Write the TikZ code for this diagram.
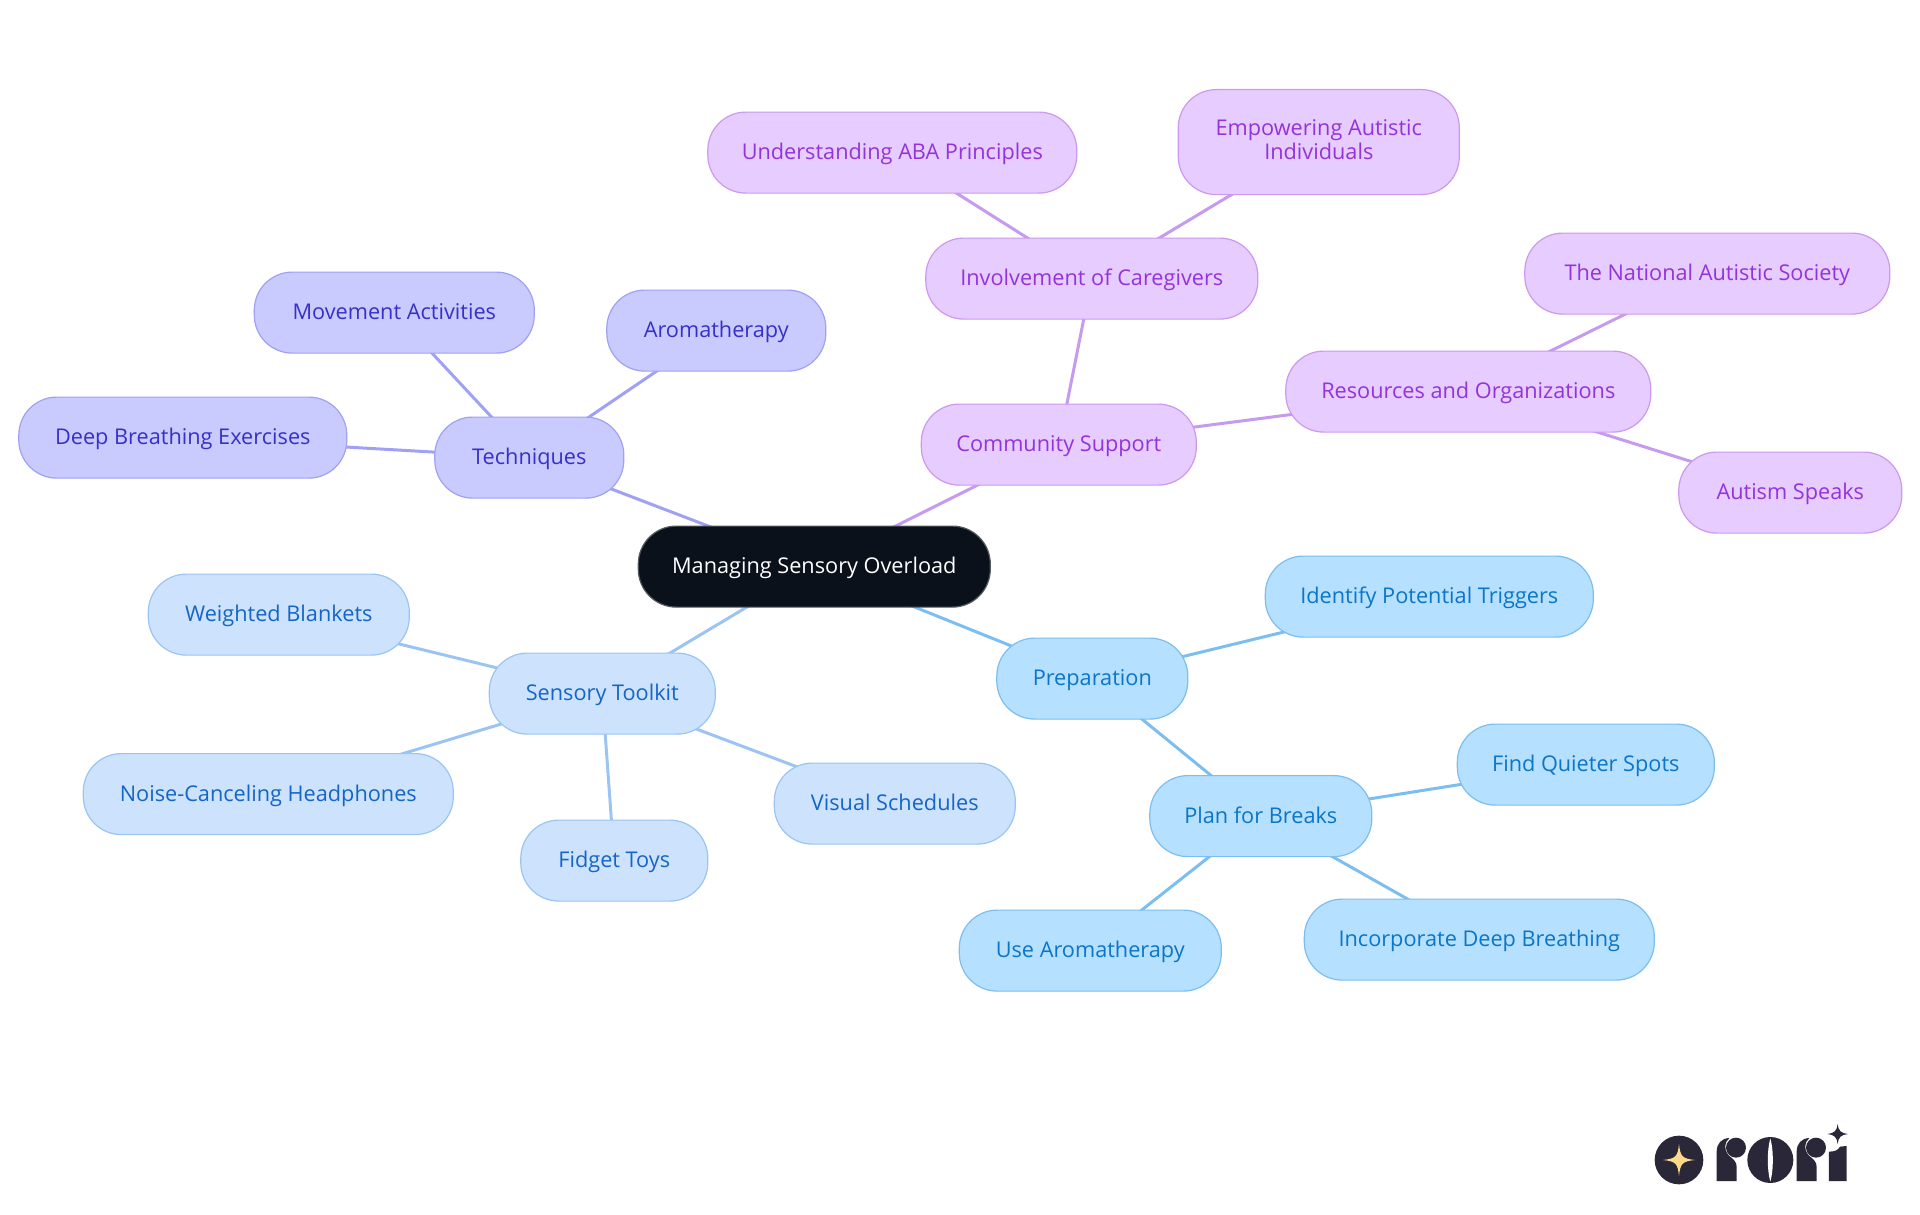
\documentclass[tikz,border=0pt]{standalone}
\usepackage{fontspec}
\setmainfont{Open Sans}
\usetikzlibrary{backgrounds}
\definecolor{rootfill}{HTML}{0B111A}
\definecolor{techfill}{HTML}{C9CBFF}\definecolor{techline}{HTML}{A0A0F5}\definecolor{techtext}{HTML}{3730C8}
\definecolor{commfill}{HTML}{E7CCFF}\definecolor{commline}{HTML}{CC99EE}\definecolor{commtext}{HTML}{9333DC}
\definecolor{toolfill}{HTML}{CCE2FD}\definecolor{toolline}{HTML}{9CC4F2}\definecolor{tooltext}{HTML}{1565C8}
\definecolor{prepfill}{HTML}{B5E0FF}\definecolor{prepline}{HTML}{7CBEF0}\definecolor{preptext}{HTML}{0B75C9}
\definecolor{logodark}{HTML}{2A2838}\definecolor{logostar}{HTML}{FFD98A}
\tikzset{
  pill/.style={rounded corners=38pt,inner sep=0pt,minimum height=81pt,line width=1.2pt,align=center,
    text height=19pt,text depth=5pt,
    font=\fontsize{21.7}{24}\selectfont},
  rootpill/.style={pill,fill=rootfill,draw=rootfill!70!white,text=white},
  techpill/.style={pill,fill=techfill,draw=techline,text=techtext},
  commpill/.style={pill,fill=commfill,draw=commline,text=commtext},
  toolpill/.style={pill,fill=toolfill,draw=toolline,text=tooltext},
  preppill/.style={pill,fill=prepfill,draw=prepline,text=preptext},
  techedge/.style={draw=techline,line width=3pt},
  commedge/.style={draw=commline!85!techline,line width=3pt},
  tooledge/.style={draw=toolline,line width=3pt},
  prepedge/.style={draw=prepline,line width=3pt},
}
\begin{document}
\begin{tikzpicture}[x=1pt,y=-1pt]
\useasboundingbox (0,0) rectangle (1920,1215);
\begin{scope}[yshift=-0.6pt,xshift=0.3pt]
\node[rootpill,minimum width=352pt] (root) at (814,566) {Managing Sensory Overload};
\node[techpill,minimum width=189pt] (tech) at (529,457) {Techniques};
\node[techpill,minimum width=280pt] (move) at (394,312) {Movement Activities};
\node[techpill,minimum width=219pt] (aroma) at (716,330) {Aromatherapy};
\node[techpill,minimum width=328pt] (deep) at (182.5,437) {Deep Breathing Exercises};
\node[commpill,minimum width=275pt] (comm) at (1058.5,444) {Community Support};
\node[commpill,minimum width=332pt] (care) at (1091.5,278) {Involvement of Caregivers};
\node[commpill,minimum width=369pt] (aba) at (892,152) {Understanding ABA Principles};
\node[commpill,minimum width=281pt,minimum height=105pt,text height=39pt,text depth=5pt] (emp) at (1318.5,141.5) {Empowering Autistic\\Individuals};
\node[commpill,minimum width=365pt] (res) at (1468,391) {Resources and Organizations};
\node[commpill,minimum width=365pt] (nas) at (1707,273) {The National Autistic Society};
\node[commpill,minimum width=223pt] (spk) at (1790,492) {Autism Speaks};
\node[toolpill,minimum width=226pt] (tool) at (602,693) {Sensory Toolkit};
\node[toolpill,minimum width=261pt] (wgt) at (278.5,614) {Weighted Blankets};
\node[toolpill,minimum width=370pt] (noise) at (268,793.5) {Noise-Canceling Headphones};
\node[toolpill,minimum width=187pt] (fid) at (614,860) {Fidget Toys};
\node[toolpill,minimum width=241pt] (vis) at (894.5,803) {Visual Schedules};
\node[preppill,minimum width=191pt] (prep) at (1092,678) {Preparation};
\node[preppill,minimum width=328pt] (ident) at (1429,596) {Identify Potential Triggers};
\node[preppill,minimum width=222pt] (plan) at (1260.5,815.5) {Plan for Breaks};
\node[preppill,minimum width=257pt] (quiet) at (1585.5,764) {Find Quieter Spots};
\node[preppill,minimum width=350pt] (inc) at (1479,939) {Incorporate Deep Breathing};
\node[preppill,minimum width=262pt] (use) at (1090,950) {Use Aromatherapy};
\end{scope}
\begin{scope}[on background layer]
\draw[techedge] (root.center) -- (tech.center);
\draw[techedge] (tech.center) -- (move.center);
\draw[techedge] (tech.center) -- (aroma.center);
\draw[techedge] (tech.center) -- (deep.center);
\draw[commedge] (root.center) -- (comm.center);
\draw[commedge] (comm.center) -- (care.center);
\draw[commedge] (care.center) -- (aba.center);
\draw[commedge] (care.center) -- (emp.center);
\draw[commedge] (comm.center) -- (res.center);
\draw[commedge] (res.center) -- (nas.center);
\draw[commedge] (res.center) -- (spk.center);
\draw[tooledge] (root.center) -- (tool.center);
\draw[tooledge] (tool.center) -- (wgt.center);
\draw[tooledge] (tool.center) -- (noise.center);
\draw[tooledge] (tool.center) -- (fid.center);
\draw[tooledge] (tool.center) -- (vis.center);
\draw[prepedge] (root.center) -- (prep.center);
\draw[prepedge] (prep.center) -- (ident.center);
\draw[prepedge] (prep.center) -- (plan.center);
\draw[prepedge] (plan.center) -- (quiet.center);
\draw[prepedge] (plan.center) -- (inc.center);
\draw[prepedge] (plan.center) -- (use.center);
\end{scope}
% logo, drawn in the coordinates of a 3x crop
\begin{scope}[shift={(1620,1100)},x=0.3333pt,y=-0.3333pt]
\fill[logodark] (177,180) circle (73);
\fill[logostar] (177,132) .. controls (181,170) and (187,176) .. (225,180) .. controls (187,184) and (181,190) .. (177,228) .. controls (173,190) and (167,184) .. (129,180) .. controls (167,176) and (173,170) .. (177,132) -- cycle;
% r
\fill[logodark] (290,243) -- (290,155) .. controls (290,130) and (305,115) .. (328,114) .. controls (312,128) and (312,150) .. (325,165) .. controls (340,178) and (350,185) .. (350,200) -- (350,243) -- cycle;
\fill[logodark] (348,143) circle (30);
% o
\fill[logodark] (451,180) circle (69);
\fill[white] (451,115) .. controls (441,150) and (441,210) .. (451,245) .. controls (461,210) and (461,150) .. (451,115) -- cycle;
% r
\fill[logodark] (530,243) -- (530,155) .. controls (530,130) and (545,115) .. (568,114) .. controls (552,128) and (552,150) .. (565,165) .. controls (580,178) and (590,185) .. (590,200) -- (590,243) -- cycle;
\fill[logodark] (588,143) circle (30);
% i
\fill[logodark] (627,243) -- (627,155) .. controls (645,155) and (655,150) .. (660,140) -- (680,138) -- (680,243) -- cycle;
\fill[logodark] (653,72) .. controls (655,92) and (663,100) .. (684,102) .. controls (663,104) and (655,112) .. (653,132) .. controls (651,112) and (643,104) .. (622,102) .. controls (643,100) and (651,92) .. (653,72) -- cycle;
\end{scope}
\end{tikzpicture}
\end{document}
